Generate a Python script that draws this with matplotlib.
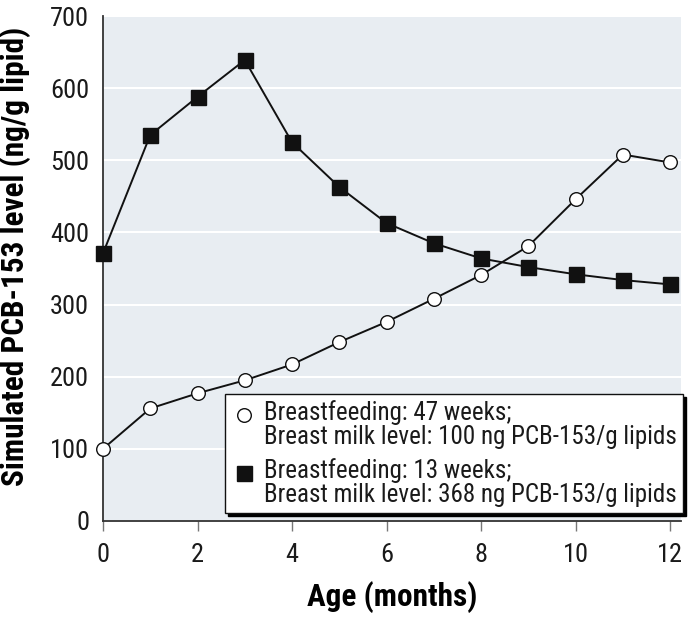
import matplotlib
matplotlib.use("Agg")
import matplotlib.pyplot as plt
from matplotlib import font_manager
from matplotlib.legend_handler import HandlerLine2D

months = [0, 1, 2, 3, 4, 5, 6, 7, 8, 9, 10, 11, 12]
long_bf = [100, 156, 177, 195, 217, 248, 276, 308, 341, 381, 446, 508, 497]
short_bf = [371, 535, 588, 639, 525, 463, 413, 385, 364, 352, 342, 334, 328]
label_long = "Breastfeeding: 47 weeks;\nBreast milk level: 100 ng PCB-153/g lipids"
label_short = "Breastfeeding: 13 weeks;\nBreast milk level: 368 ng PCB-153/g lipids"
xticks = [0, 2, 4, 6, 8, 10, 12]
yticks = [0, 100, 200, 300, 400, 500, 600, 700]

# pick a condensed sans if one is installed
ents = font_manager.fontManager.ttflist
names = {f.name for f in ents}
family, stretch = None, "normal"
for cand in ["Liberation Sans Narrow", "Roboto Condensed", "Open Sans Condensed",
             "Noto Sans Condensed", "DejaVu Sans Condensed", "Arial Narrow"]:
    if cand in names:
        family = cand
        break
if family is None:
    for f in ents:
        if str(f.stretch) in ("condensed", "semi-condensed", "500", "600") or \
           "Narrow" in f.fname or "Condensed" in f.fname:
            family, stretch = f.name, f.stretch
            break
if family is None:
    family = "Roboto" if "Roboto" in names else "DejaVu Sans"
plt.rcParams['font.family'] = [family, "DejaVu Sans"]
plt.rcParams['font.stretch'] = stretch


class UpHandler(HandlerLine2D):
    def __init__(self, dy, **kw):
        super().__init__(**kw)
        self.dy = dy

    def create_artists(self, legend, orig_handle, xdescent, ydescent, width,
                       height, fontsize, trans):
        arts = super().create_artists(legend, orig_handle, xdescent, ydescent,
                                      width, height, fontsize, trans)
        for a in arts:
            a.set_ydata([y + self.dy * fontsize for y in a.get_ydata()])
            a.set_linestyle("none")
        return arts


fig = plt.figure(figsize=(6.94, 6.17), dpi=100)
ax = fig.add_axes([0.1484, 0.1556, 0.8329, 0.8184])
ax.set_facecolor("#e8edf2")

l1, = ax.plot(months, long_bf, color="#111111", lw=1.4, marker="o", ms=9.8,
              mfc="white", mec="#111111", mew=1.0, label=label_long, zorder=3,
              clip_on=False)
l2, = ax.plot(months, short_bf, color="#111111", lw=1.4, marker="s", ms=10.8,
              mfc="#111111", mec="#111111", label=label_short, zorder=3,
              clip_on=False)

ax.set_xlim(0, 12.23)
ax.set_ylim(0, 700)
ax.set_xticks(xticks)
ax.set_yticks(yticks)
ax.yaxis.grid(True, color="white", lw=1.5)
ax.set_axisbelow(True)
for s in ["top", "right"]:
    ax.spines[s].set_visible(False)
for s in ["left", "bottom"]:
    ax.spines[s].set_color("#333333")
    ax.spines[s].set_linewidth(1.3)
ax.tick_params(axis="x", direction="out", length=7, width=1, color="#777777",
               labelsize=19, pad=9, labelcolor="#1a1a1a")
ax.tick_params(axis="y", length=0, labelsize=19, pad=10, labelcolor="#1a1a1a")

ax.set_xlabel("Age (months)", fontsize=22.5, fontweight="bold", labelpad=10)
ax.set_ylabel("Simulated PCB-153 level (ng/g lipid)", fontsize=22.5,
              fontweight="bold")
ax.yaxis.set_label_coords(-0.125, 0.525)

leg = ax.legend(handles=[l1, l2], loc="lower right",
                bbox_to_anchor=(1.0035, 0.0158),
                fontsize=18, frameon=True, fancybox=False, edgecolor="#111111",
                framealpha=1, shadow={"color": "black", "alpha": 1},
                handlelength=1.0, handletextpad=0.3, borderpad=0.25,
                labelspacing=0.35, borderaxespad=0.0,
                handler_map={l1: UpHandler(0.42), l2: UpHandler(0.42)})
leg.get_frame().set_linewidth(1.0)
for t in leg.get_texts():
    t.set_linespacing(1.0)
    t.set_color("#1a1a1a")

fig.savefig("out.png", dpi=100)
